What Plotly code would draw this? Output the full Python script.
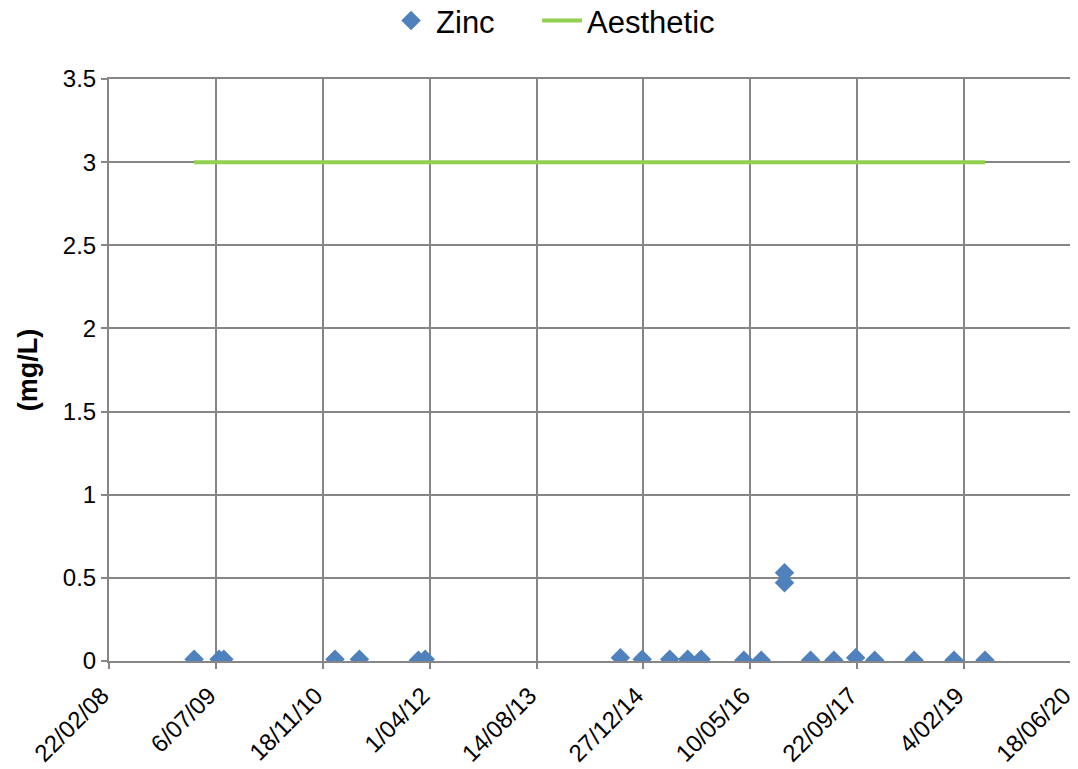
import plotly.graph_objects as go
import pandas as pd

zinc_dates = ["2009-03-26", "2009-07-21", "2009-08-12", "2011-01-14", "2011-05-08",
              "2012-02-08", "2012-03-11", "2014-09-10", "2014-12-21", "2015-04-29",
              "2015-07-22", "2015-09-23", "2016-04-10", "2016-06-30", "2016-10-17",
              "2016-10-17", "2017-02-16", "2017-06-05", "2017-09-15", "2017-12-13",
              "2018-06-15", "2018-12-19", "2019-05-13"]
zinc_values = [0.01, 0.01, 0.01, 0.01, 0.01,
               0.005, 0.01, 0.02, 0.01, 0.01,
               0.01, 0.01, 0.005, 0.005, 0.53,
               0.47, 0.005, 0.005, 0.02, 0.005,
               0.005, 0.005, 0.005]
aesthetic_dates = ["2009-03-26", "2019-05-13"]
aesthetic_values = [3, 3]

axis_start = pd.Timestamp("2008-02-22")
tick_dates = [axis_start + pd.Timedelta(days=500 * i) for i in range(10)]
tick_vals = [d.strftime("%Y-%m-%d") for d in tick_dates]
tick_labels = [f"{d.day}/{d.month:02d}/{d.year % 100:02d}" for d in tick_dates]
x_range = [(tick_dates[0] - pd.Timedelta(hours=6)).strftime("%Y-%m-%d %H:%M"),
           (tick_dates[-1] + pd.Timedelta(hours=6)).strftime("%Y-%m-%d %H:%M")]

font = "Liberation Sans, Arial, sans-serif"
grid = "#868686"

fig = go.Figure()
fig.add_trace(go.Scatter(x=zinc_dates, y=zinc_values, mode="markers", name="Zinc",
                         marker=dict(symbol="diamond", size=15, color="#4F81BD"),
                         legend="legend", showlegend=True))
fig.add_trace(go.Scatter(x=aesthetic_dates, y=aesthetic_values, mode="lines", name="Aesthetic",
                         line=dict(color="#92D050", width=4), legend="legend2", showlegend=True))

fig.update_layout(
    width=1070, height=761,
    showlegend=True,
    margin=dict(l=101, r=7, t=71, b=108, autoexpand=False),
    paper_bgcolor="white", plot_bgcolor="white",
    font=dict(family=font, size=24, color="black"),
    legend=dict(orientation="h", x=0.288, xanchor="left", y=1.1, yanchor="middle",
                font=dict(size=31), itemwidth=40, visible=True),
    legend2=dict(orientation="h", x=0.445, xanchor="left", y=1.1, yanchor="middle",
                 font=dict(size=31), itemwidth=40, visible=True),
    xaxis=dict(range=x_range, tickvals=tick_vals, ticktext=tick_labels,
               tickangle=-45, showgrid=True, gridcolor=grid, gridwidth=2,
               showline=True, mirror=True, linecolor=grid, linewidth=2,
               ticks="outside", ticklen=6, tickwidth=2, tickcolor=grid, tickfont=dict(size=24),
               ticklabeloverflow="allow", ticklabelshift=-7, ticklabelstandoff=3,
               zeroline=False, automargin=False),
    yaxis=dict(range=[0, 3.5], dtick=0.5, showgrid=True, gridcolor=grid, gridwidth=2,
               showline=True, mirror=True, linecolor=grid, linewidth=2,
               ticks="outside", ticklen=6, tickwidth=2, tickcolor=grid, tickfont=dict(size=24),
               zeroline=False, automargin=False,
               title=dict(text="<b>(mg/L)</b>", font=dict(size=27), standoff=17)),
)
fig.write_html("out.html")
